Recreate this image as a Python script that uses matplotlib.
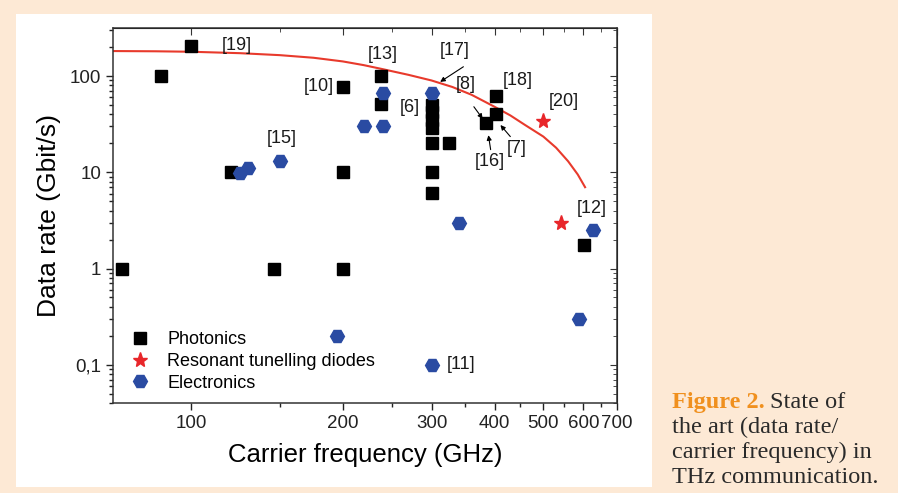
import matplotlib
matplotlib.use('Agg')
import matplotlib.pyplot as plt
from matplotlib.ticker import NullFormatter, LogLocator

# data (GHz, Gbit/s)
photonics_freq = [73, 87, 100, 120, 146, 200, 200, 200, 238, 238, 300, 300, 300, 300, 300, 300, 300, 325, 385, 402, 402, 601]
photonics_rate = [1, 100, 205, 10, 1, 77, 10, 1, 101, 51, 50, 42, 35, 29, 20, 10, 6.1, 20, 32.5, 40, 62, 1.75]

rtd_freq = [500, 542]
rtd_rate = [34, 3.0]

electronics_freq = [125, 130, 150, 195, 220, 240, 240, 300, 300, 340, 589, 627]
electronics_rate = [9.9, 11.2, 13, 0.2, 30, 30, 66, 66, 0.1, 3.0, 0.3, 2.5]

limit_freq = [70, 85, 100, 125, 150, 175, 200, 220, 240, 270, 300, 330, 360, 400, 430, 460, 500, 530, 560, 585, 605]
limit_rate = [182, 181, 179, 173, 165, 155, 142, 130, 118, 103, 90, 77, 64, 48, 39, 31, 23.5, 18, 13, 9.5, 7]

ref_labels = ['[19]', '[15]', '[10]', '[13]', '[6]', '[17]', '[8]', '[18]', '[20]', '[16]', '[7]', '[12]', '[11]']
ref_pos = [(123, 210), (151, 22.4), (179, 77), (240, 166), (272, 47), (334, 183), (351, 81),
           (444, 91), (550, 54), (391, 12.8), (443, 17.6), (625, 4.2), (343, 0.1)]
# (tail, head) of the little pointer arrows
arrows = [((347, 125), (312, 87)), ((364, 48), (379, 36)),
          ((393, 17.2), (389, 24.3)), ((430, 23.5), (411, 31))]

xticks = [100, 200, 300, 400, 500, 600, 700]
xminor = [150, 250, 350, 450, 550, 650]
yticks = [0.1, 1, 10, 100]
ylabels = ['0,1', '1', '10', '100']

cream = '#fde9d5'
blue = '#2a4ba2'
red = '#e8262a'

plt.rcParams['font.family'] = ['Liberation Sans', 'DejaVu Sans']

fig = plt.figure(figsize=(8.98, 4.93), dpi=100, facecolor=cream)
fig.patches.append(plt.Rectangle((16 / 898, 6 / 493), 636 / 898, 473 / 493,
                                 transform=fig.transFigure, facecolor='white', edgecolor='none', zorder=-1))

ax = fig.add_axes([113 / 898, 90 / 493, 504 / 898, 375 / 493])
ax.set_facecolor('none')
ax.set_xscale('log')
ax.set_yscale('log')
ax.set_xlim(70, 700)
ax.set_ylim(0.04, 316)

ax.plot(limit_freq, limit_rate, color='#e83a2c', lw=1.5, zorder=2)
ax.plot(photonics_freq, photonics_rate, 's', color='black', ms=8, ls='none', label='Photonics', zorder=3)
ax.plot(rtd_freq, rtd_rate, '*', color=red, ms=11, ls='none', label='Resonant tunelling diodes', zorder=3)
ax.plot(electronics_freq, electronics_rate, 'H', color=blue, ms=10, ls='none', label='Electronics', zorder=3)

for lab, (x, y) in zip(ref_labels, ref_pos):
    ax.text(x, y, lab, fontsize=13, ha='center', va='center', color='#1a1a1a')
for tail, head in arrows:
    ax.annotate('', xy=head, xytext=tail,
                arrowprops=dict(arrowstyle='-|>', color='black', lw=0.8, mutation_scale=7,
                                shrinkA=0, shrinkB=0))

ax.set_xticks(xticks, [str(t) for t in xticks])
ax.set_xticks(xminor, minor=True)
ax.xaxis.set_minor_formatter(NullFormatter())
ax.set_yticks(yticks, ylabels)
ax.yaxis.set_minor_locator(LogLocator(subs=range(2, 10)))
ax.yaxis.set_minor_formatter(NullFormatter())
ax.tick_params(which='both', direction='out', labelsize=13.5, width=1, colors='#222222')
ax.tick_params(which='major', length=5)
ax.tick_params(which='minor', length=3)
for s in ax.spines.values():
    s.set_linewidth(1.1)
    s.set_color('#333333')

top = ax.secondary_xaxis('top')
top.set_xticks(xticks)
top.set_xticks(xminor, minor=True)
top.tick_params(which='both', direction='in', labeltop=False, colors='#333333')
top.tick_params(which='major', length=5)
top.tick_params(which='minor', length=3)
right = ax.secondary_yaxis('right')
right.set_yticks(yticks)
right.yaxis.set_minor_locator(LogLocator(subs=range(2, 10)))
right.yaxis.set_minor_formatter(NullFormatter())
right.tick_params(which='both', direction='in', labelright=False, colors='#333333')
right.tick_params(which='major', length=5)
right.tick_params(which='minor', length=3)

ax.set_xlabel('Carrier frequency (GHz)', fontsize=18.5, labelpad=8)
ax.set_ylabel('Data rate (Gbit/s)', fontsize=19, labelpad=6)

ax.legend(loc='upper left', bbox_to_anchor=(0.0, 0.234), frameon=False, fontsize=13,
          numpoints=1, handlelength=1.2, handletextpad=0.9, labelspacing=0.25)

# caption on the right
cap = dict(family='Liberation Serif', fontsize=17.5, va='baseline', transform=fig.transFigure)
head = fig.text(672 / 898, 1 - 408 / 493, 'Figure 2.', color='#f0901e', fontweight='bold', **cap)
fig.canvas.draw()
x_after = head.get_window_extent().x1 + 5
fig.text(x_after / 898, 1 - 408 / 493, 'State of', color='#2a2a2a', **cap)
fig.text(672 / 898, 1 - 433 / 493, 'the art (data rate/', color='#2a2a2a', **cap)
fig.text(672 / 898, 1 - 458 / 493, 'carrier frequency) in', color='#2a2a2a', **cap)
fig.text(672 / 898, 1 - 483 / 493, 'THz communication.', color='#2a2a2a', **cap)

fig.savefig('out.png', dpi=100, facecolor=cream)
